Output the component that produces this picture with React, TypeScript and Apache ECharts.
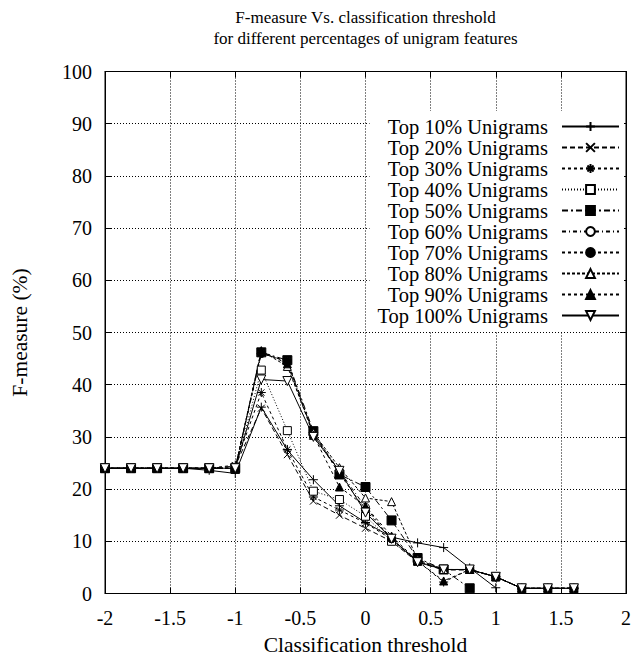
import React, { useEffect, useRef } from "react";
import * as echarts from "echarts";

const titleText = "F-measure Vs. classification threshold\nfor different percentages of unigram features";
const xAxisName = "Classification threshold";
const yAxisName = "F-measure (%)";

const xs = [-2, -1.8, -1.6, -1.4, -1.2, -1, -0.8, -0.6, -0.4, -0.2, 0, 0.2, 0.4, 0.6, 0.8, 1, 1.2, 1.4, 1.6];

const seriesNames = [
  "Top 10% Unigrams",
  "Top 20% Unigrams",
  "Top 30% Unigrams",
  "Top 40% Unigrams",
  "Top 50% Unigrams",
  "Top 60% Unigrams",
  "Top 70% Unigrams",
  "Top 80% Unigrams",
  "Top 90% Unigrams",
  "Top 100% Unigrams",
];

const top10 = [24, 24, 24, 24, 23.6, 23, 35.7, 27.5, 21.8, 16.8, 13.6, 10.8, 9.7, 8.8, 4.9, 1.1, null, null, null];
const top20 = [24, 24, 24, 24, 24, 24.4, 35.5, 26.6, 17.7, 15.0, 12.5, 10.0, 6.0, 4.5, 4.5, 3.2, 1, 1, 1];
const top30 = [24, 24, 24, 24, 24, 24.6, 38.5, 27.6, 18.5, 16.0, 13.5, 10.4, 6.2, 2.2, 4.6, 3.2, 1, 1, 1];
const top40 = [24, 24, 24, 24, 24, 24, 42.8, 31.2, 19.6, 18.0, 14.8, 10.0, 6.2, 4.6, 4.6, 3.2, 1, 1, 1];
const top50 = [24, 24, 24, 24, 24, 24, 46.2, 44.7, 31.1, 22.8, 20.4, 14.0, 6.8, 4.6, 1.0, null, null, null, null];
const top60 = [24, 24, 24, 24, 24, 24, 46.0, 44.5, 30.5, 23.5, 16.5, 10.5, 6.2, 4.6, 4.6, 3.2, 1, 1, 1];
const top70 = [24, 24, 24, 24, 24, 24, 46.0, 44.5, 30.5, 23.0, 16.0, 10.5, 6.2, 4.6, 4.6, 3.2, 1, 1, 1];
const top80 = [24, 24, 24, 24, 24, 24, 46.5, 43.5, 30.8, 24.1, 18.3, 17.6, 6.5, 4.6, 4.6, 3.2, 1, 1, 1];
const top90 = [24, 24, 24, 24, 24, 24, 46.5, 44.0, 30.3, 20.4, 16.7, 11.0, 6.2, 2.4, 4.6, 3.2, 1, 1, 1];
const top100 = [24, 24, 24, 24, 24, 24, 41.0, 40.7, 30.0, 23.5, 15.5, 10.5, 6.0, 4.6, 4.6, 3.2, 1, 1, 1];

const seriesValues = [top10, top20, top30, top40, top50, top60, top70, top80, top90, top100];

const FONT = "'Liberation Serif', 'Times New Roman', serif";

const PLUS = "path://M5,0L5,10M0,5L10,5";
const CROSS = "path://M0,0L10,10M10,0L0,10";
const STAR = "path://M5,0L5,10M0,5L10,5M1.5,1.5L8.5,8.5M8.5,1.5L1.5,8.5";
const TRI_DOWN = "path://M0,0L10,0L5,8.7Z";

const styles: any[] = [
  { symbol: PLUS, size: 9, fill: "none", dash: "solid" },
  { symbol: CROSS, size: 7, fill: "none", dash: [5, 3] },
  { symbol: STAR, size: 9, fill: "none", dash: [3, 3] },
  { symbol: "rect", size: 8, fill: "#fff", dash: [1, 2] },
  { symbol: "rect", size: 9, fill: "#000", dash: [6, 3, 2, 3] },
  { symbol: "circle", size: 8, fill: "#fff", dash: [4, 3, 1, 3] },
  { symbol: "circle", size: 8, fill: "#000", dash: [3, 3] },
  { symbol: "triangle", size: 8, fill: "#fff", dash: [3, 2] },
  { symbol: "triangle", size: 8, fill: "#000", dash: [3, 3] },
  { symbol: TRI_DOWN, size: 9, fill: "#fff", dash: "solid" },
];

export default function App() {
  const ref = useRef<HTMLDivElement>(null);
  useEffect(() => {
    if (!ref.current) return;
    const chart = echarts.init(ref.current, undefined, { renderer: "svg" });
    const series = seriesNames.map((name, si) => {
      const st = styles[si];
      const data = xs
        .map((x, i) => [x, seriesValues[si][i]])
        .filter((p) => p[1] !== null);
      return {
        name,
        type: "line",
        xAxisIndex: 0,
        yAxisIndex: 0,
        data,
        symbol: st.symbol,
        symbolSize: st.size,
        showSymbol: true,
        lineStyle: { color: "#000", width: 1, type: st.dash },
        itemStyle: { color: st.fill === "none" ? "#000" : st.fill, borderColor: "#000", borderWidth: 1 },
        emphasis: { disabled: true },
      };
    });
    const axisCommonX = {
      type: "value",
      min: -2,
      max: 2,
      interval: 0.5,
    };
    const axisCommonY = {
      type: "value",
      min: 0,
      max: 100,
      interval: 10,
    };
    const axisLine = { show: true, onZero: false, lineStyle: { color: "#000", width: 1 } };
    const axisTick = { show: true, inside: true, length: 6, lineStyle: { color: "#000" } };
    chart.setOption({
      animation: false,
      textStyle: { fontFamily: FONT, color: "#000" },
      title: {
        text: titleText,
        left: 365.5,
        textAlign: "center",
        top: 7,
        padding: 0,
        textStyle: { fontFamily: FONT, fontSize: 17, fontWeight: "normal", color: "#000", lineHeight: 21 },
      },
      legend: {
        orient: "vertical",
        align: "right",
        right: 10,
        top: 111,
        padding: [5, 4, 5, 8],
        backgroundColor: "#fff",
        itemWidth: 57,
        itemHeight: 11,
        itemGap: 0,
        textStyle: { fontFamily: FONT, fontSize: 20.5, color: "#000", padding: [0, 9, 0, 0] },
        data: seriesNames,
      },
      grid: {
        left: 105,
        right: 8,
        top: 71.5,
        bottom: 62.5,
        show: true,
        borderColor: "#000",
        borderWidth: 1,
        backgroundColor: "transparent",
        containLabel: false,
        outerBoundsMode: "none",
      },
      xAxis: [
        {
          ...axisCommonX,
          position: "bottom",
          name: xAxisName,
          nameLocation: "middle",
          nameGap: 40,
          nameTextStyle: { fontFamily: FONT, fontSize: 21.5, color: "#000" },
          axisLine,
          axisTick,
          axisLabel: { show: true, margin: 14, fontFamily: FONT, fontSize: 20, color: "#000" },
          splitLine: { show: true, lineStyle: { color: "#000", width: 1, type: [1, 2] } },
        },
        {
          ...axisCommonX,
          position: "top",
          axisLine,
          axisTick,
          axisLabel: { show: false },
          splitLine: { show: false },
        },
      ],
      yAxis: [
        {
          ...axisCommonY,
          position: "left",
          name: yAxisName,
          nameLocation: "middle",
          nameGap: 74,
          nameRotate: 90,
          nameTextStyle: { fontFamily: FONT, fontSize: 21.5, color: "#000" },
          axisLine,
          axisTick,
          axisLabel: { show: true, margin: 13, fontFamily: FONT, fontSize: 20, color: "#000" },
          splitLine: { show: true, lineStyle: { color: "#000", width: 1, type: [1, 2] } },
        },
        {
          ...axisCommonY,
          position: "right",
          axisLine,
          axisTick,
          axisLabel: { show: false },
          splitLine: { show: false },
        },
      ],
      series,
    });
    return () => chart.dispose();
  }, []);
  return (
    <div
      ref={ref}
      style={{ position: "absolute", left: 0, top: 0, width: 634, height: 656, background: "#fff" }}
    />
  );
}
